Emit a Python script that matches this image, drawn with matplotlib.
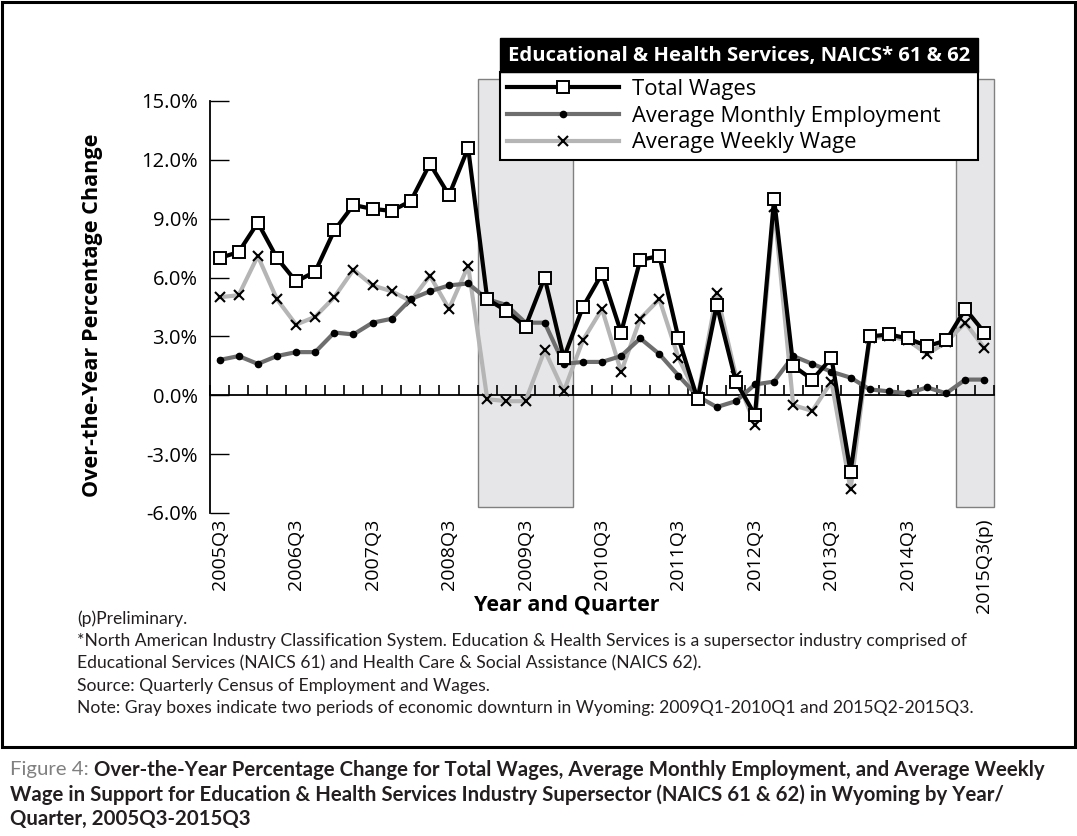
import matplotlib
matplotlib.use('Agg')
import matplotlib.pyplot as plt
from matplotlib.patches import Rectangle

plt.rcParams['font.family'] = ['Open Sans', 'DejaVu Sans']

# quarters 2005Q3 .. 2015Q3
quarters = [f'{y}Q{q}' for y in range(2005, 2016) for q in range(1, 5)][2:-1]

total_wages = [7.0, 7.3, 8.8, 7.0, 5.8, 6.3, 8.4, 9.7, 9.5, 9.4, 9.9, 11.8, 10.2, 12.6,
               4.9, 4.3, 3.5, 6.0, 1.9, 4.5, 6.2, 3.2, 6.9, 7.1, 2.9, -0.2, 4.6, 0.7,
               -1.0, 10.0, 1.5, 0.8, 1.9, -3.9, 3.0, 3.1, 2.9, 2.5, 2.8, 4.4, 3.2]
monthly_emp = [1.8, 2.0, 1.6, 2.0, 2.2, 2.2, 3.2, 3.1, 3.7, 3.9, 4.9, 5.3, 5.6, 5.7,
               4.9, 4.6, 3.7, 3.7, 1.6, 1.7, 1.7, 2.0, 2.9, 2.1, 1.0, -0.05, -0.6, -0.3,
               0.55, 0.7, 2.0, 1.6, 1.2, 0.9, 0.3, 0.2, 0.1, 0.4, 0.1, 0.8, 0.8]
weekly_wage = [5.0, 5.1, 7.1, 4.9, 3.6, 4.0, 5.0, 6.4, 5.6, 5.3, 4.8, 6.1, 4.4, 6.6,
               -0.2, -0.3, -0.3, 2.3, 0.2, 2.8, 4.4, 1.2, 3.9, 4.9, 1.9, -0.1, 5.2, 1.0,
               -1.5, 9.6, -0.5, -0.8, 0.7, -4.8, 2.9, 3.0, 2.8, 2.1, 2.7, 3.7, 2.4]

tick_quarters = ['2005Q3', '2006Q3', '2007Q3', '2008Q3', '2009Q3', '2010Q3',
                 '2011Q3', '2012Q3', '2013Q3', '2014Q3', '2015Q3']
tick_labels = ['2005Q3', '2006Q3', '2007Q3', '2008Q3', '2009Q3', '2010Q3',
               '2011Q3', '2012Q3', '2013Q3', '2014Q3', '2015Q3(p)']
y_ticks = [-6, -3, 0, 3, 6, 9, 12, 15]

downturns = [('2009Q1', '2010Q1'), ('2015Q2', '2015Q3')]

footnotes = [
    '(p)Preliminary.',
    '*North American Industry Classification System. Education & Health Services is a supersector industry comprised of',
    'Educational Services (NAICS 61) and Health Care & Social Assistance (NAICS 62).',
    'Source: Quarterly Census of Employment and Wages.',
    'Note: Gray boxes indicate two periods of economic downturn in Wyoming: 2009Q1-2010Q1 and 2015Q2-2015Q3.',
]
caption_lines = [
    'Over-the-Year Percentage Change for Total Wages, Average Monthly Employment, and Average Weekly',
    'Wage in Support for Education & Health Services Industry Supersector (NAICS 61 & 62) in Wyoming by Year/',
    'Quarter, 2005Q3-2015Q3',
]

W, H = 1077, 836
narrow = ['Lato', 'DejaVu Sans']

fig = plt.figure(figsize=(W / 100, H / 100), dpi=100)
renderer = fig.canvas.get_renderer()
ax = fig.add_axes([210 / W, 1 - 513 / H, 784 / W, 412 / H])

x = list(range(len(quarters)))
ax.set_xlim(-0.5, len(quarters) - 0.5)
ax.set_ylim(-6, 15)

# gray downturn boxes
for start, end in downturns:
    i0 = quarters.index(start) - 0.5
    i1 = quarters.index(end) + 0.5
    ax.add_patch(Rectangle((i0, -5.7), i1 - i0, 21.8, facecolor='#e6e6e8',
                           edgecolor='#808080', lw=1, clip_on=False, zorder=0.5))

l_week, = ax.plot(x, weekly_wage, color='#b5b5b5', lw=3, marker='x', ms=6.5,
                  mec='black', mew=1.5, zorder=3, label='Average Weekly Wage')
l_emp, = ax.plot(x, monthly_emp, color='#6e6e6e', lw=3, marker='o', ms=4.5,
                 mfc='black', mec='black', zorder=4, label='Average Monthly Employment')
l_tot, = ax.plot(x, total_wages, color='black', lw=3, marker='s', ms=8.5,
                 mfc='white', mec='black', mew=1.4, zorder=5, label='Total Wages')

# axes styling
for s in ['top', 'right']:
    ax.spines[s].set_visible(False)
ax.spines['bottom'].set_position(('data', 0))
ax.spines['bottom'].set_linewidth(1.3)
ax.spines['left'].set_linewidth(1.3)
ax.set_xticks([i + 0.5 for i in range(-1, len(quarters))])
ax.tick_params(axis='x', direction='in', length=7, width=1.2, labelbottom=False)
ax.set_yticks(y_ticks)
ax.set_yticklabels([f'{v:.1f}%' for v in y_ticks])
ax.tick_params(axis='y', direction='in', length=14, width=1, pad=9, labelsize=14.5)

sec = ax.secondary_xaxis('bottom')
sec.set_xticks([quarters.index(q) for q in tick_quarters], tick_labels, rotation=90)
sec.tick_params(length=0, pad=4, labelsize=14)
sec.spines['bottom'].set_visible(False)

ax.set_ylabel('Over-the-Year Percentage Change', fontsize=15.6, weight='bold', va='center')
ax.yaxis.set_label_coords(-0.1505, 0.48)
ax.set_xlabel('Year and Quarter', fontsize=15.5, weight='bold', va='center')
ax.xaxis.set_label_coords(0.455, -0.223)

# legend with black title bar
leg = ax.legend(handles=[l_tot, l_emp, l_week], loc='upper left',
                bbox_to_anchor=(500 / W, 1 - 158 / H, 478 / W, 86 / H),
                bbox_transform=fig.transFigure, mode='expand', borderaxespad=0,
                fontsize=15.8, handlelength=5.1, handletextpad=0.6, labelspacing=0.27,
                borderpad=0.3, numpoints=1, fancybox=False, framealpha=1,
                edgecolor='black')
leg.get_frame().set_linewidth(1.5)
leg.set_zorder(10)
fig.patches.append(Rectangle((500 / W, 1 - 72 / H), 478 / W, 34 / H, transform=fig.transFigure,
                             facecolor='black', edgecolor='black', zorder=10))
fig.text(739 / W, 1 - 56 / H, 'Educational & Health Services, NAICS* 61 & 62', color='white',
         weight='bold', ha='center', va='center', fontsize=14.6, zorder=11)

# footnotes, sized so the longest line spans the same width as in the original
notes = [fig.text(77 / W, 1 - (619 + 22.3 * k) / H, line, family=narrow, fontsize=12,
                  va='center', color='#231f20') for k, line in enumerate(footnotes)]
size = 12 * 885 / notes[1].get_window_extent(renderer).width
for t in notes:
    t.set_fontsize(size)

# frame around chart
fig.patches.append(Rectangle((1.5 / W, 1 - 747 / H), 1073 / W, 745 / H, transform=fig.transFigure,
                             fill=False, edgecolor='black', lw=2.2))

# caption: gray lead-in then bold text, first line fitted to the original width
lead = fig.text(10 / W, 1 - 770 / H, 'Figure 4: ', family=narrow, fontsize=14,
                color='#808080', va='center')
cap = [fig.text(10 / W, 1 - (770 + 24.5 * k) / H, line, family=narrow, fontsize=14,
                weight='bold', color='#231f20', va='center')
       for k, line in enumerate(caption_lines)]
line1_w = lead.get_window_extent(renderer).width + cap[0].get_window_extent(renderer).width
size = 14 * 1040 / line1_w
for t in cap + [lead]:
    t.set_fontsize(size)
cap[0].set_x((10 + lead.get_window_extent(renderer).width) / W)

fig.savefig('out.png', dpi=100)
